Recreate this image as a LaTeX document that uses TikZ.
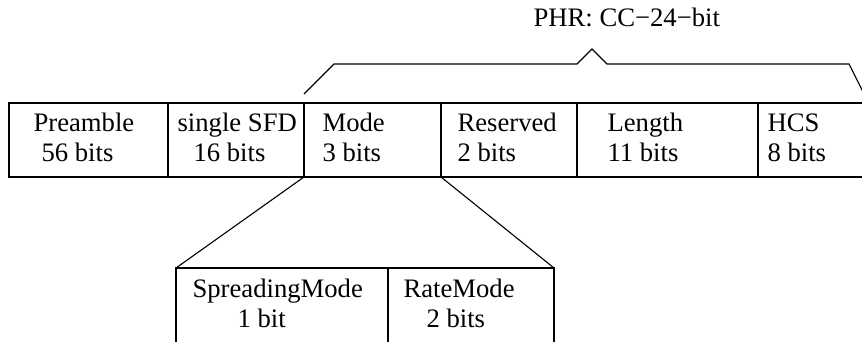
\documentclass[tikz,border=0pt]{standalone}
\usepackage{fontspec}
\setmainfont{Liberation Serif}
\usetikzlibrary{positioning}
\newcommand{\pxu}{0.45pt}
\tikzset{
  cell/.style={draw, rectangle, inner sep=0pt, outer sep=0pt, minimum height=74*\pxu},
  lbl/.style={anchor=base west, inner sep=0pt, font=\fontsize{12}{14}\selectfont}
}

\begin{document}
\begin{tikzpicture}[x=\pxu, y=-\pxu, line width=0.5pt]
\clip (0,0) rectangle (862,342);
% frame fields
\node[cell, anchor=north west, minimum width=159*\pxu] (pre) at (9,103) {};
\node[cell, minimum width=136*\pxu, right=0pt of pre] (sfd) {};
\node[cell, minimum width=137*\pxu, right=0pt of sfd] (mode) {};
\node[cell, minimum width=136*\pxu, right=0pt of mode] (res) {};
\node[cell, minimum width=181*\pxu, right=0pt of res] (len) {};
\node[cell, minimum width=106*\pxu, right=0pt of len] (hcs) {};
% mode sub-fields
\node[cell, anchor=north west, minimum width=212*\pxu, minimum height=100*\pxu] (spread) at (176,268) {};
\node[cell, minimum width=166*\pxu, minimum height=100*\pxu, right=0pt of spread] (rate) {};
% labels
\node[lbl] (preName) at (33,132) {Preamble};
\node[lbl] (preBits) at (41,162) {56 bits};
\node[lbl] (sfdName) at (177,132) {single SFD};
\node[lbl] (sfdBits) at (193,162) {16 bits};
\node[lbl] (modeName) at (322,132) {Mode};
\node[lbl] (modeBits) at (322,162) {3 bits};
\node[lbl] (resName) at (457,132) {Reserved};
\node[lbl] (resBits) at (457,162) {2 bits};
\node[lbl] (lenName) at (607,132) {Length};
\node[lbl] (lenBits) at (607,162) {11 bits};
\node[lbl] (hcsName) at (767,132) {HCS};
\node[lbl] (hcsBits) at (767,162) {8 bits};
\node[lbl] (spreadName) at (192,298) {SpreadingMode};
\node[lbl] (spreadBits) at (237,328) {1 bit};
\node[lbl] (rateName) at (403,298) {RateMode};
\node[lbl] (rateBits) at (426,328) {2 bits};
\node[lbl] (phr) at (533,27) {PHR: CC−24−bit};
% zoom lines
\draw (mode.south west) -- (spread.north west);
\draw (mode.south east) -- (rate.north east);
% PHR brace
\coordinate (phrL) at ([yshift=9*\pxu]mode.north west);
\coordinate (phrR) at ([yshift=9*\pxu]hcs.north east);
\draw (phrL) -- ++(30,-30) -- (577,64) -- (592,49) -- (607,64) -- (849,64) -- (phrR);
\end{tikzpicture}
\end{document}
